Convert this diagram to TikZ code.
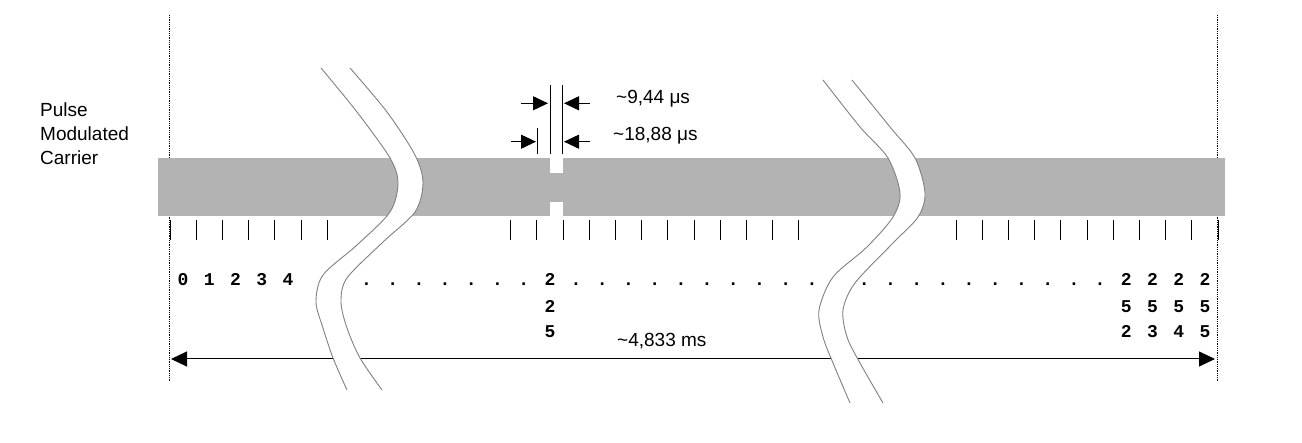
\documentclass[tikz,border=0pt]{standalone}
\usepackage{fontspec}
\setmainfont{Liberation Sans}
\setmonofont{Liberation Mono}
\usetikzlibrary{arrows.meta}

\definecolor{bande}{RGB}{179,179,179}
\definecolor{coupure}{RGB}{128,128,128}

\tikzset{
   etiquette/.style={font=\fontsize{19}{23.7}\selectfont, inner sep=0pt},
   chiffre/.style={font=\fontsize{18}{26}\selectfont\ttfamily\bfseries, inner sep=0pt, anchor=base},
   graduation/.style={line width=1pt},
   cote/.style={line width=1pt, -{Triangle[length=15pt,width=14pt]}},
   repere/.style={densely dotted, line width=0.8pt},
   bord/.style={draw=coupure, line width=0.9pt},
}

\begin{document}
\begin{tikzpicture}[x=1pt, y=-1pt]
         \useasboundingbox (0,0) rectangle (1302,443);

         % Limites verticales en pointillés
         \coordinate (hautG) at (169,15);
         \coordinate (basG) at (169,382);
         \coordinate (hautD) at (1217,15);
         \coordinate (basD) at (1217,382);
         \draw[repere] (hautG) -- (basG);
         \draw[repere] (hautD) -- (basD);

         % Titre
         \node[etiquette, align=left, anchor=north west] (titre) at (40,102.7) {Pulse\\Modulated\\Carrier};

         % Bande grise de la porteuse
         \fill[bande] (158,158) rectangle (1225,216);

         % Encoches de l'impulsion
         \fill[white] (550,158) rectangle (563,173);
         \fill[white] (550,202) rectangle (563,216);

         % Graduations
         \foreach \n in {0,1,...,6,13,14,...,24,30,31,...,40} {
            \pgfmathsetmacro\x{170+26.2*\n}
            \draw[graduation] (\x,220) -- (\x,240);
         }

         % Points de suspension
         \foreach \n in {7,8,...,13,15,16,...,24,26,27,...,35} {
            \pgfmathsetmacro\x{170+26.2*(\n+0.5)}
            \node[chiffre] (pt\n) at (\x,286) {.};
         }

         % Numéros des créneaux
         \foreach \n in {0,1,...,4} {
            \pgfmathsetmacro\x{170+26.2*(\n+0.5)}
            \node[chiffre] (num\n) at (\x,286) {\n};
         }
         \foreach \n/\a/\b/\c in {14/2/2/5, 36/2/5/2, 37/2/5/3, 38/2/5/4, 39/2/5/5} {
            \pgfmathsetmacro\x{170+26.2*(\n+0.5)}
            \node[chiffre] (num\n-a) at (\x,286) {\a};
            \node[chiffre] (num\n-b) at (\x,312.5) {\b};
            \node[chiffre] (num\n-c) at (\x,338) {\c};
         }

         % Cotes de l'impulsion
         \coordinate (lgH) at (550,85);
         \coordinate (lgB) at (550,154);
         \coordinate (ldH) at (562,85);
         \coordinate (ldB) at (562,154);
         \coordinate (lcH) at (537,128);
         \coordinate (lcB) at (537,154);
         \draw[graduation] (lgH) -- (lgB);
         \draw[graduation] (ldH) -- (ldB);
         \draw[graduation] (lcH) -- (lcB);

         \coordinate (f1a) at (521,103.3);
         \coordinate (f1b) at (548,103.3);
         \coordinate (f1c) at (590,103.3);
         \coordinate (f1d) at (564,103.3);
         \coordinate (f2a) at (511,141.7);
         \coordinate (f2b) at (536,141.7);
         \coordinate (f2c) at (590,141.7);
         \coordinate (f2d) at (564,141.7);
         \draw[cote] (f1a) -- (f1b);
         \draw[cote] (f1c) -- (f1d);
         \draw[cote] (f2a) -- (f2b);
         \draw[cote] (f2c) -- (f2d);

         \node[etiquette, anchor=base west] (demi) at (616,103.3) {\textasciitilde 9,44 μs};
         \node[etiquette, anchor=base west] (entier) at (613,141) {\textasciitilde 18,88 μs};

         % Durée totale
         \coordinate (fleG) at (171,359);
         \coordinate (fleD) at (1215,359);
         \draw[line width=1pt, {Triangle[length=16pt,width=15pt]}-{Triangle[length=16pt,width=15pt]}] (fleG) -- (fleD);
         \node[etiquette, anchor=base west] (duree) at (617,346.7) {\textasciitilde 4,833 ms};

         % Coupure de gauche
         \fill[white] plot[smooth] coordinates {(321,68) (357,112) (390,158) (398,183) (390,212) (357,245) (323,275) (316,302) (323,328) (333,358) (347,390)}
            -- plot[smooth] coordinates {(382,390) (360,358) (347,328) (341,302) (347,278) (383,242) (415,212) (423,183) (415,155) (387,112) (350,68)} -- cycle;
         \draw[bord] plot[smooth] coordinates {(321,68) (357,112) (390,158) (398,183) (390,212) (357,245) (323,275) (316,302) (323,328) (333,358) (347,390)};
         \draw[bord] plot[smooth] coordinates {(350,68) (387,112) (415,155) (423,183) (415,212) (383,242) (347,278) (341,302) (347,328) (360,358) (382,390)};

         % Coupure de droite
         \fill[white] plot[smooth] coordinates {(823,80) (860,127) (888,158) (900,193) (893,217) (867,247) (833,277) (819,310) (823,337) (833,363) (850,403)}
            -- plot[smooth] coordinates {(883,403) (860,363) (847,337) (843,310) (855,283) (893,243) (918,217) (925,193) (915,158) (890,127) (852,80)} -- cycle;
         \draw[bord] plot[smooth] coordinates {(823,80) (860,127) (888,158) (900,193) (893,217) (867,247) (833,277) (819,310) (823,337) (833,363) (850,403)};
         \draw[bord] plot[smooth] coordinates {(852,80) (890,127) (915,158) (925,193) (918,217) (893,243) (855,283) (843,310) (847,337) (860,363) (883,403)};
      \end{tikzpicture}
\end{document}
